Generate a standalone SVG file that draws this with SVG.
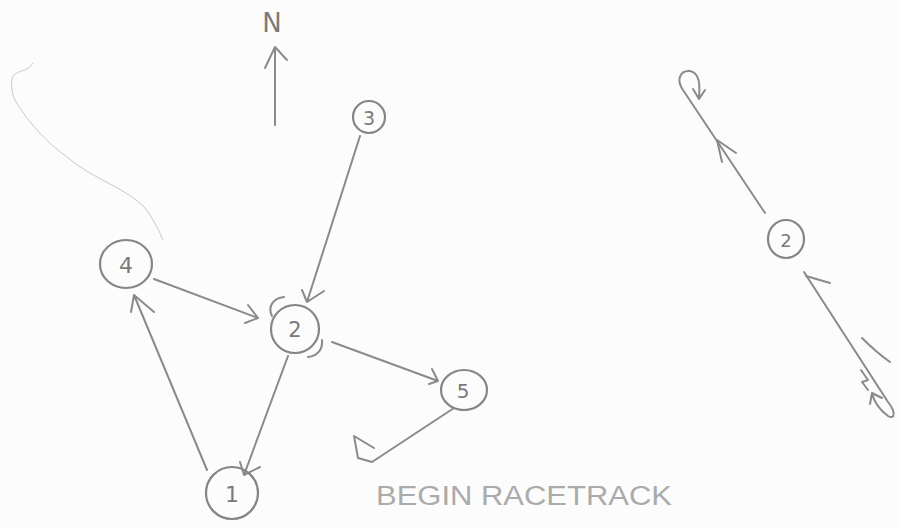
<svg xmlns="http://www.w3.org/2000/svg" width="901" height="527" viewBox="0 0 901 527">
<style>
.s{fill:none;stroke:#8a8a8a;stroke-width:2;stroke-linecap:round;stroke-linejoin:round}
.n{fill:none;stroke:#858585;stroke-width:2.2}
.t{font-family:"DejaVu Sans",sans-serif;fill:#7a7a7a;text-anchor:middle;dominant-baseline:central}
.h{font-family:"Liberation Sans",sans-serif;fill:#ababab;font-size:27px}
</style>
<rect width="901" height="527" fill="#fcfcfc"/>
<!-- faint sketch curve -->
<path d="M33,63 C28,72 18,70 13,76 C10,85 12,95 16,102 C30,125 50,145 67,157 C80,168 95,176 110,184 C125,192 135,198 145,208 C152,217 158,228 163,240" fill="none" stroke="#c8c8c8" stroke-width="1"/>
<!-- north -->
<g id="north">
<text x="272" y="23" class="t" font-size="26" fill="#888">N</text>
<path class="s" d="M275,125 L275,47 M265,68 L275,47 L287,60"/>
</g>
<g id="connectors">
<!-- 3 -> 2 -->
<path class="s" d="M360,136 L307,302 M302,290 L307,302 L324,291"/>
<!-- 4 -> 2 -->
<path class="s" d="M154,279 L258,318 M248,305 L258,318 L245,323"/>
<!-- 1 -> 4 -->
<path class="s" d="M207,470 L134,295 M131,312 L134,295 L154,312"/>
<!-- 2 -> 1 -->
<path class="s" d="M288,356 L244,475 M240,462 L244,475 L260,467"/>
<!-- 2 -> 5 -->
<path class="s" d="M332,342 L438,381 M432,369 L438,381 L429,384"/>
<!-- 5 -> return -->
<path class="s" d="M454,408 L372,462 L358,458 L354,436 L374,448"/>
<!-- right: top segment -->
<path class="s" d="M765,213 L683,90 C676,80 680,70 690,71 C700,73 700,85 699,98 M693,89 L699,99 L705,90"/>
<path class="s" d="M717,140 L722,162 M717,140 L736,153"/>
<!-- right: bottom segment -->
<path class="s" d="M804,272 L888,402 C896,412 895,420 888,416 C880,410 874,402 872,393 M872,393 L870,404 M872,393 L882,398"/>
<path class="s" d="M806,276 L830,283"/>
<path class="s" d="M862,338 C872,348 880,355 890,362" stroke="#b0b0b0"/>
<path class="s" d="M861,370 L868,380 L862,382 L868,390"/>
</g>
<g id="node3">
<circle class="n" cx="369" cy="117" r="16"/>
<text x="369" y="118" class="t" font-size="19">3</text>
</g>
<g id="node4">
<ellipse class="n" cx="126" cy="264" rx="26" ry="24"/>
<text x="126" y="265" class="t" font-size="22">4</text>
</g>
<g id="node2">
<circle class="n" cx="295" cy="329" r="24"/>
<path class="s" d="M272,316 C267,306 274,298 284,297 M322,340 C323,350 317,356 308,357"/>
<text x="295" y="330" class="t" font-size="21">2</text>
</g>
<g id="node5">
<ellipse class="n" cx="464" cy="390" rx="23" ry="20"/>
<text x="463" y="391" class="t" font-size="20">5</text>
</g>
<g id="node1">
<circle class="n" cx="232" cy="493" r="26"/>
<text x="232" y="494" class="t" font-size="22">1</text>
</g>
<g id="node2b">
<ellipse class="n" cx="786" cy="239" rx="18" ry="19"/>
<text x="786" y="240" class="t" font-size="18">2</text>
</g>
<text x="376" y="505" class="h" textLength="296" lengthAdjust="spacingAndGlyphs">BEGIN RACETRACK</text>
</svg>
